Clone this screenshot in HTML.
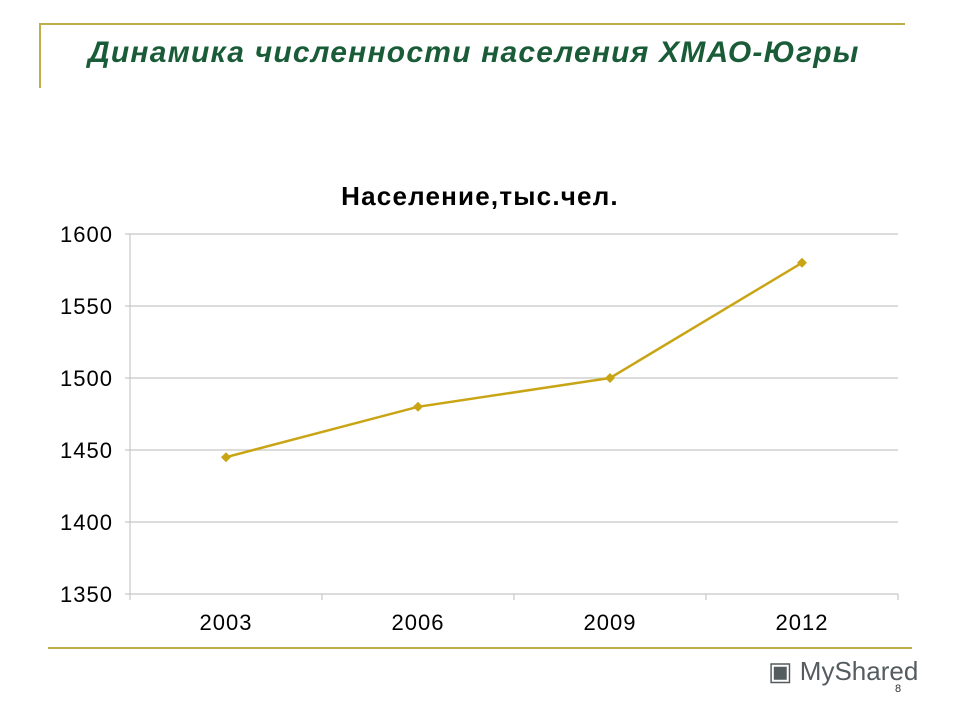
<!DOCTYPE html>
<html><head><meta charset="utf-8"><style>
body{margin:0;width:960px;height:720px;background:#fff;position:relative;overflow:hidden;font-family:"Liberation Sans",sans-serif}
.abs{position:absolute}
</style></head><body>
<div class="abs" style="left:40px;top:23px;width:865px;height:2px;background:#bfae4a"></div>
<div class="abs" style="left:39px;top:23px;width:2px;height:65px;background:#bfae4a"></div>
<div class="abs" style="left:48px;top:647px;width:864px;height:2px;background:#bfae4a"></div>
<div class="abs" style="left:88px;top:36px;font-size:30px;letter-spacing:1.2px;font-weight:bold;font-style:italic;color:#1a5c38;white-space:nowrap">Динамика численности населения ХМАО-Югры</div>
<div class="abs" style="left:768px;top:656px;font-size:26px;color:#555c60;white-space:nowrap">▣ MyShared</div>
<div class="abs" style="left:895px;top:683px;font-size:11px;color:#333">8</div>
<svg class="abs" style="left:0;top:0" width="960" height="720">
<text x="480" y="205" text-anchor="middle" font-size="26" letter-spacing="1.2" font-weight="bold" fill="#000" font-family="Liberation Sans">Население,тыс.чел.</text>
<g id="g"></g>
</svg>
<script>
const categories=["2003","2006","2009","2012"];
const values=[1445,1480,1500,1580];
const yTicks=[1350,1400,1450,1500,1550,1600];
const X0=130,X1=898,Y0=594,Y1=234,ymin=1350,ymax=1600;
const bw=(X1-X0)/categories.length;
const xs=i=>X0+bw*(i+0.5);
const ys=v=>Y0-(v-ymin)/(ymax-ymin)*(Y0-Y1);
const g=document.getElementById('g');const NS="http://www.w3.org/2000/svg";
function mk(t,a){const e=document.createElementNS(NS,t);for(const k in a)e.setAttribute(k,a[k]);g.appendChild(e);return e;}
yTicks.forEach(v=>{
 const l=mk('line',{x1:X0-5,x2:X1,y1:ys(v),y2:ys(v),stroke:'#c8c8c8','stroke-width':1.2});
 
 
 const t=mk('text',{x:X0-17,y:ys(v)+8,'text-anchor':'end','font-size':22,'letter-spacing':1,fill:'#000'});t.textContent=v;
 
 
});
const ax=mk('line',{x1:X0,x2:X0,y1:Y1,y2:Y0,stroke:'#c8c8c8','stroke-width':1.2});


for(let i=0;i<=categories.length;i++){const tk=mk('line',{x1:X0+bw*i,x2:X0+bw*i,y1:Y0,y2:Y0+6,stroke:'#c8c8c8','stroke-width':1.2});
 
 }
categories.forEach((c,i)=>{const t=mk('text',{x:xs(i),y:630,'text-anchor':'middle','font-size':22,'letter-spacing':1,fill:'#000'});t.textContent=c;
 
 });
const pl=mk('polyline',{points:values.map((v,i)=>xs(i)+','+ys(v)).join(' '),fill:'none',stroke:'#c9a516','stroke-width':2.5});


values.forEach((v,i)=>{const x=xs(i),y=ys(v);const m=mk('polygon',{points:`${x},${y-5} ${x+5},${y} ${x},${y+5} ${x-5},${y}`,fill:'#c9a516'});
 
 });
</script>
</body></html>
